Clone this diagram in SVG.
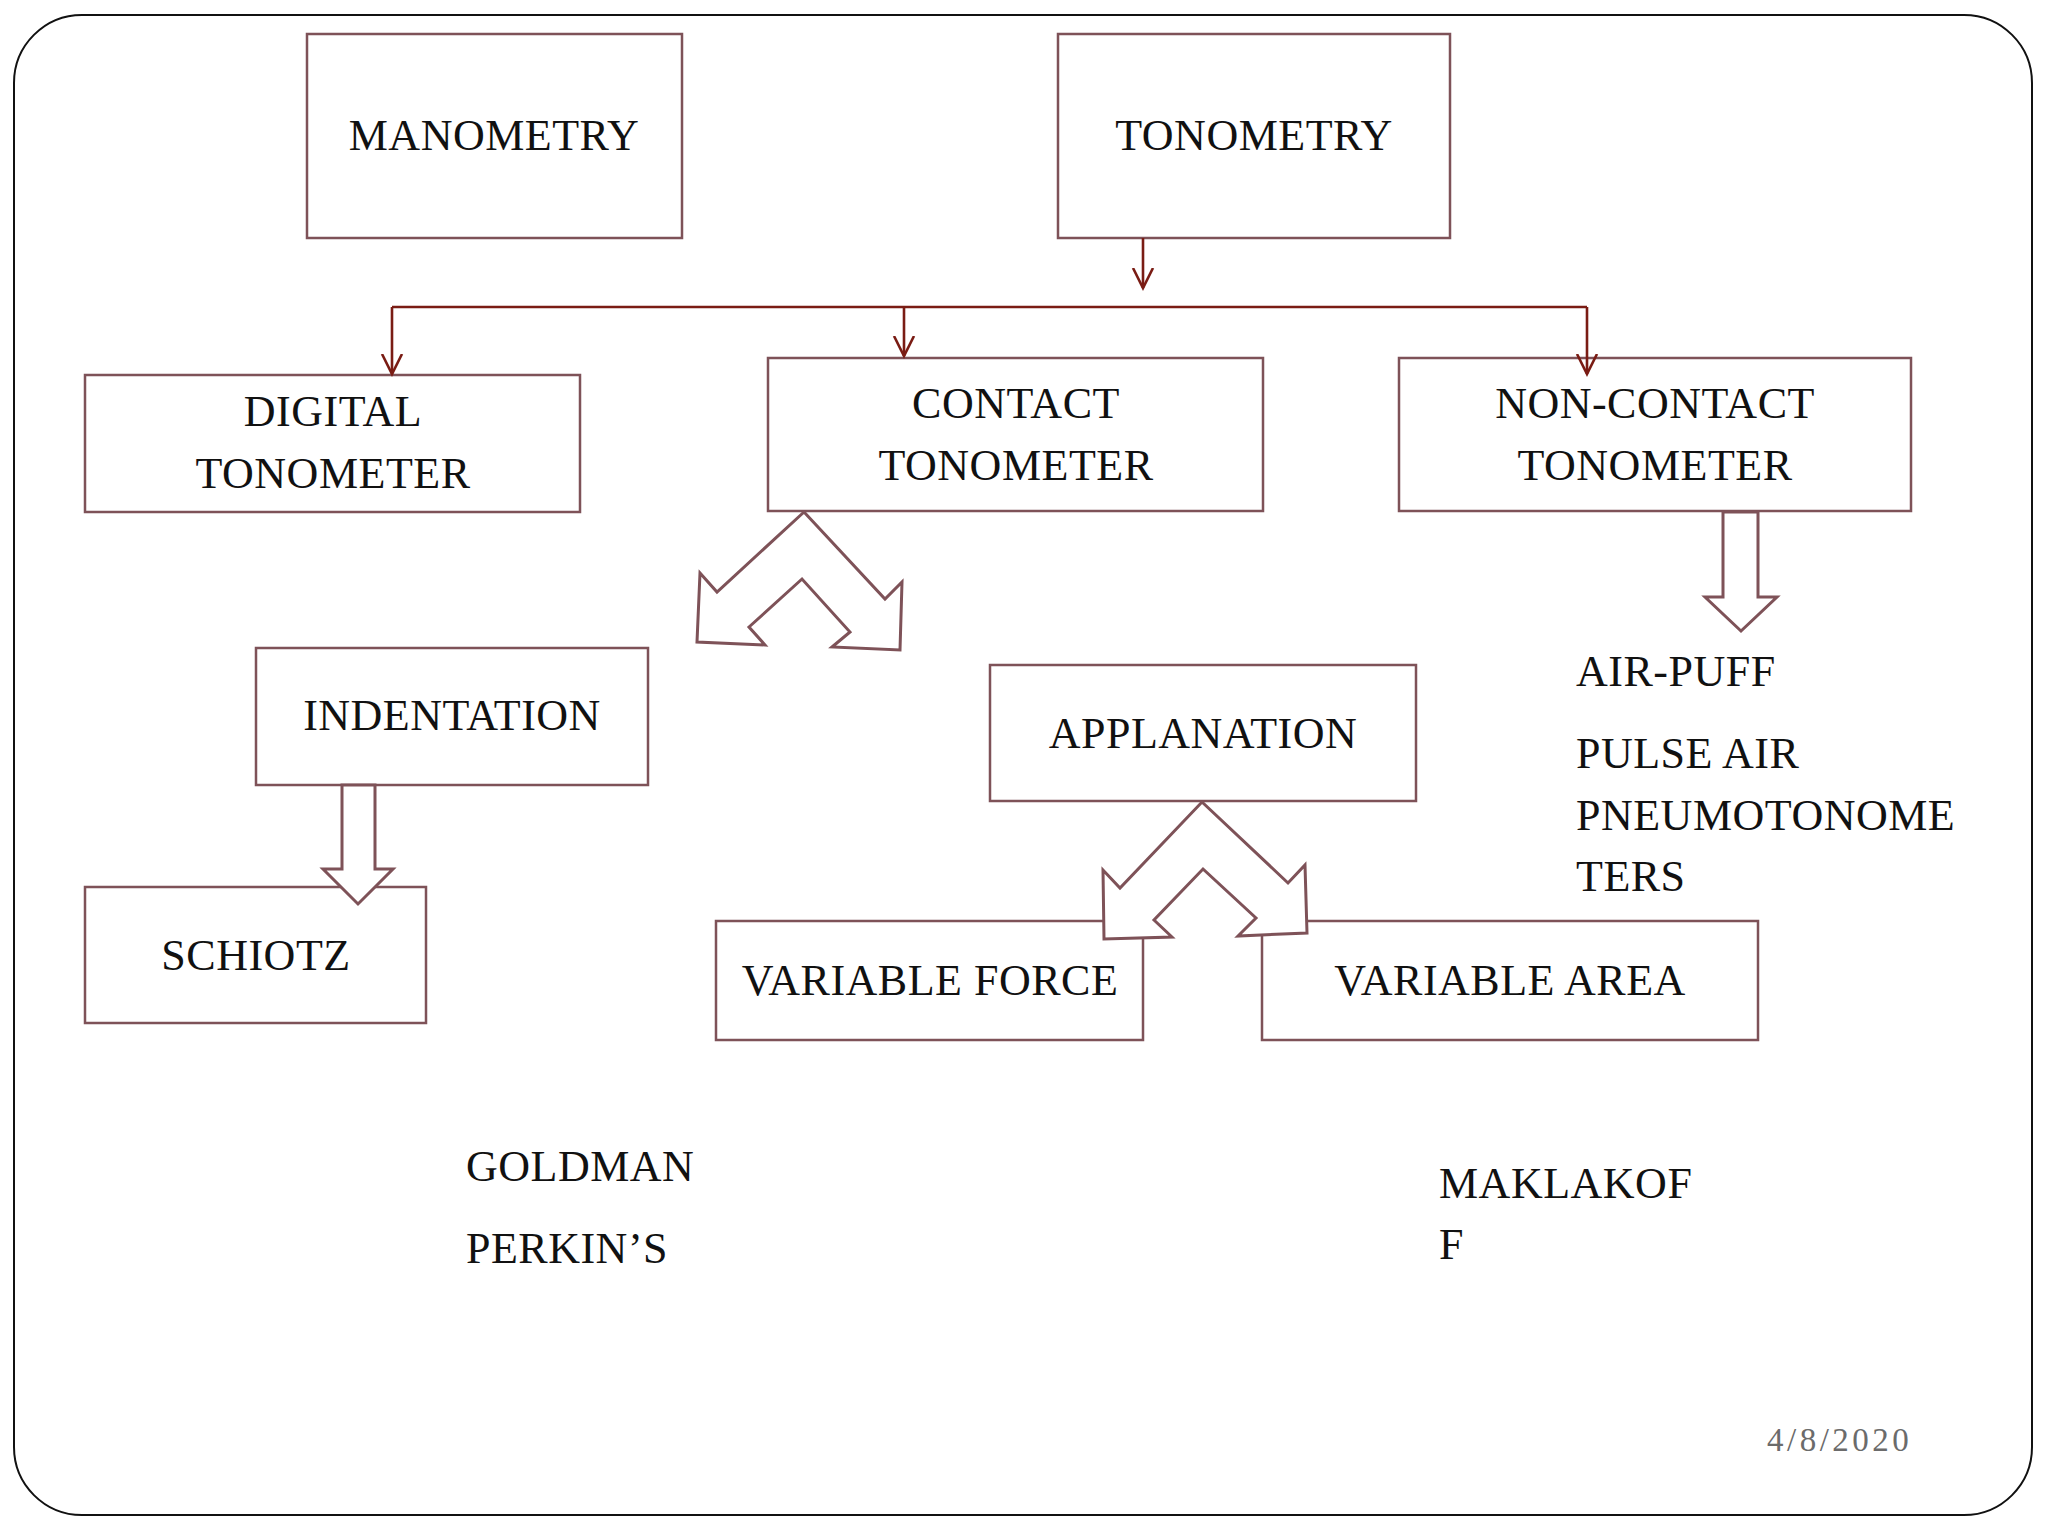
<svg xmlns="http://www.w3.org/2000/svg" width="2048" height="1536" viewBox="0 0 2048 1536">
<defs>
<style>
.box{fill:#ffffff;stroke:#7e5258;stroke-width:2.5}
.t{font-family:"Liberation Serif","Times New Roman",serif;font-size:44px;fill:#111111;letter-spacing:0.5px}
.c{text-anchor:middle}
.con{fill:none;stroke:#7a1c14;stroke-width:2.6}
.blk{fill:#ffffff;stroke:#7e5258;stroke-width:3;stroke-linejoin:miter}
</style>
<marker id="ah" markerWidth="24" markerHeight="24" refX="20" refY="11" viewBox="0 0 24 22" markerUnits="userSpaceOnUse" orient="auto">
<path d="M0,1 L20,11 L0,21" fill="none" stroke="#7a1c14" stroke-width="2.6"/>
</marker>
</defs>
<rect x="0" y="0" width="2048" height="1536" fill="#ffffff"/>
<rect x="14" y="15" width="2018" height="1500" rx="68" ry="68" fill="#ffffff" stroke="#111111" stroke-width="2"/>

<g id="manometry"><rect class="box" x="307" y="34" width="375" height="204"/><text class="t c" x="494" y="150">MANOMETRY</text></g>
<g id="tonometry"><rect class="box" x="1058" y="34" width="392" height="204"/><text class="t c" x="1254" y="150">TONOMETRY</text></g>
<g id="digital"><rect class="box" x="85" y="375" width="495" height="137"/><text class="t c" x="333" y="426">DIGITAL</text><text class="t c" x="333" y="488">TONOMETER</text></g>
<g id="contact"><rect class="box" x="768" y="358" width="495" height="153"/><text class="t c" x="1016" y="418">CONTACT</text><text class="t c" x="1016" y="480">TONOMETER</text></g>
<g id="noncontact"><rect class="box" x="1399" y="358" width="512" height="153"/><text class="t c" x="1655" y="418">NON-CONTACT</text><text class="t c" x="1655" y="480">TONOMETER</text></g>
<g id="indentation"><rect class="box" x="256" y="648" width="392" height="137"/><text class="t c" x="452" y="730">INDENTATION</text></g>
<g id="schiotz"><rect class="box" x="85" y="887" width="341" height="136"/><text class="t c" x="256" y="970">SCHIOTZ</text></g>
<g id="applanation"><rect class="box" x="990" y="665" width="426" height="136"/><text class="t c" x="1203" y="748">APPLANATION</text></g>
<g id="varforce"><rect class="box" x="716" y="921" width="427" height="119"/><text class="t c" x="930" y="995">VARIABLE FORCE</text></g>
<g id="vararea"><rect class="box" x="1262" y="921" width="496" height="119"/><text class="t c" x="1510" y="995">VARIABLE AREA</text></g>

<g id="connectors">
<path class="con" d="M1143,238 L1143,288" marker-end="url(#ah)"/>
<path class="con" d="M392,307 L1587,307"/>
<path class="con" d="M392,307 L392,374" marker-end="url(#ah)"/>
<path class="con" d="M904,307 L904,356" marker-end="url(#ah)"/>
<path class="con" d="M1587,307 L1587,374" marker-end="url(#ah)"/>
<polygon id="contact-split" class="blk" points="804,512 885,599 902,582 900,650 832,647 850,632 802,579 749,627 765,645 697,642 700,573 717,592"/>
<polygon id="applanation-split" class="blk" points="1202,802 1288,883 1305,865 1307,933 1238,936 1256,918 1203,869 1154,920 1172,937 1104,939 1103,870 1120,888"/>
<polygon id="indentation-down" class="blk" points="342,785 375,785 375,869 393,869 358,904 323,869 342,869"/>
<polygon id="noncontact-down" class="blk" points="1723,512 1758,512 1758,597 1777,597 1741,631 1705,597 1723,597"/>
</g>

<g id="labels">
<text class="t" x="1576" y="686">AIR-PUFF</text>
<text class="t" x="1576" y="768">PULSE AIR</text>
<text class="t" x="1576" y="830">PNEUMOTONOME</text>
<text class="t" x="1576" y="891">TERS</text>
<text class="t" x="466" y="1181">GOLDMAN</text>
<text class="t" x="466" y="1263">PERKIN’S</text>
<text class="t" x="1439" y="1198">MAKLAKOF</text>
<text class="t" x="1439" y="1259">F</text>
<text x="1767" y="1451" style="font-family:'Liberation Serif','Times New Roman',serif;font-size:33px;fill:#6b6b6b;letter-spacing:3.5px">4/8/2020</text>
</g>
</svg>
